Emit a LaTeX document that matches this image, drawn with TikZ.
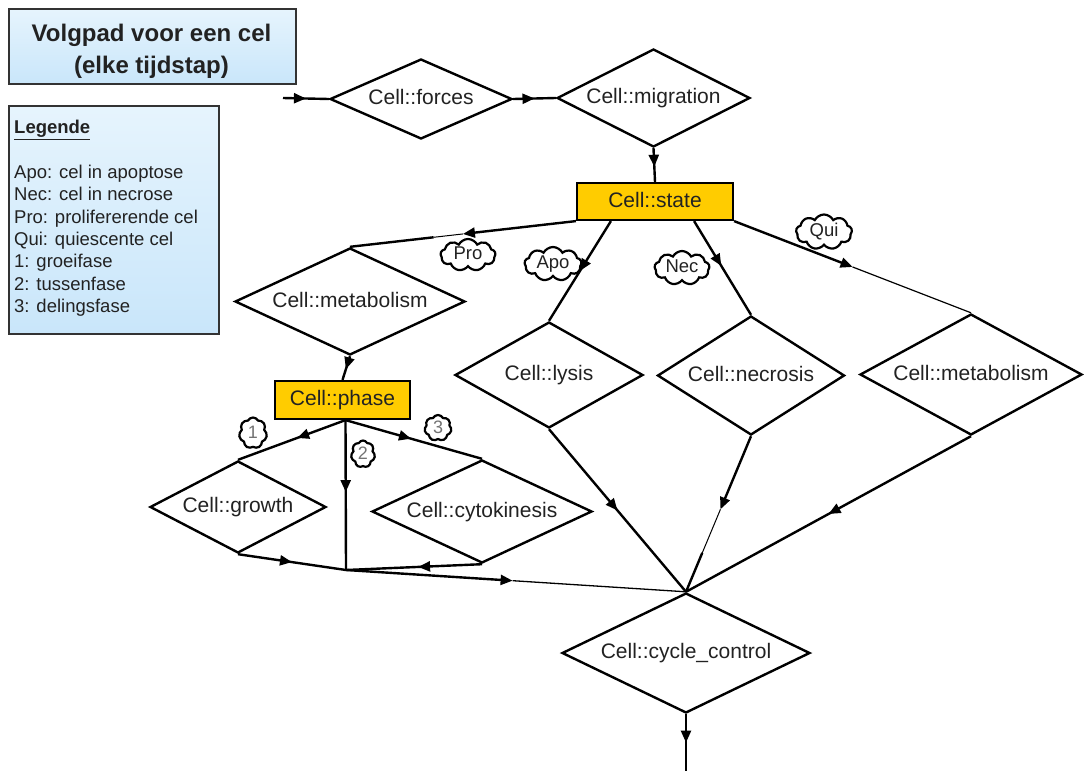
\documentclass[tikz,border=0pt]{standalone}
\usepackage{fontspec}
\setmainfont{Liberation Sans}
\usetikzlibrary{shapes.geometric,shapes.symbols,arrows.meta,decorations.markings,calc}
\definecolor{gold}{HTML}{FFCC00}
\definecolor{lbtop}{HTML}{E6F4FD}
\definecolor{lbbot}{HTML}{C9E6FA}
\definecolor{txt}{HTML}{222222}
\begin{document}
\begin{tikzpicture}[x=1pt,y=-1pt,
  every node/.style={text=txt},
  dia/.style={diamond, draw=black, line width=2.4pt, fill=white, inner sep=0pt,
    font=\fontsize{21}{25}\selectfont, text height=15pt, text depth=4pt},
  ybox/.style={rectangle, draw=black, line width=2.2pt, fill=gold, inner sep=0pt,
    font=\fontsize{21}{25}\selectfont, text height=15pt, text depth=4pt},
  conn/.style={draw=black, line width=2.4pt},
  thinconn/.style={draw=black, line width=1pt},
  marr/.style={postaction={decorate}, decoration={markings,
    mark=at position #1 with {\arrow{Triangle[length=12pt,width=10pt]}}}},
  endarr/.style={-{Triangle[length=12pt,width=10pt]}},
  tag/.style={cloud, cloud puffs=9, cloud puff arc=125, aspect=1.8, draw=black,
    line width=2.2pt, fill=white, inner sep=0pt, text height=10pt, text depth=1pt,
    font=\fontsize{18.5}{22}\selectfont},
  numtag/.style={cloud, cloud puffs=7, cloud puff arc=125, aspect=0.95, draw=black,
    line width=2.2pt, fill=white, inner sep=0pt, text height=10pt, text depth=0pt,
    font=\fontsize{18}{20}\selectfont, text=black!55},
  infobox/.style={rectangle, draw=black!80, line width=1.8pt, top color=lbtop, bottom color=lbbot},
  legtxt/.style={anchor=base west, inner sep=0pt, font=\fontsize{18.5}{22}\selectfont},
]
\useasboundingbox (0,0) rectangle (1084,771);

% info boxes
\node[infobox, anchor=north west, minimum width=287, minimum height=75] (titlebox) at (8,8) {};
\node[align=center, inner sep=0pt, font=\bfseries\fontsize{24}{32}\selectfont] (titletext) at (151.5,51) {Volgpad voor een cel\\(elke tijdstap)};
\node[infobox, anchor=north west, minimum width=210, minimum height=228] (legend) at (8,105) {};
\node[legtxt, font=\bfseries\fontsize{18.5}{22}\selectfont] (lg0) at (14,133.5) {\underline{Legende}};
\node[legtxt] (lg1) at (14,178.5) {Apo: cel in apoptose};
\node[legtxt] (lg2) at (14,200.8) {Nec: cel in necrose};
\node[legtxt] (lg3) at (14,223.1) {Pro: prolifererende cel};
\node[legtxt] (lg4) at (14,245.4) {Qui: quiescente cel};
\node[legtxt] (lg5) at (14,267.7) {1: groeifase};
\node[legtxt] (lg6) at (14,290.0) {2: tussenfase};
\node[legtxt] (lg7) at (14,312.3) {3: delingsfase};

% main nodes
\node[dia, aspect=2.27, minimum width=182, minimum height=80] (forces) at (421,99) {Cell::forces};
\node[dia, aspect=1.96, minimum width=193, minimum height=98] (migr) at (653.5,98) {Cell::migration};
\node[ybox, minimum width=156, minimum height=37] (state) at (655,201.5) {Cell::state};
\node[dia, aspect=2.21, minimum width=230, minimum height=107] (metab1) at (350,301.5) {Cell::metabolism};
\node[dia, aspect=1.77, minimum width=188, minimum height=106] (lysis) at (549,375) {Cell::lysis};
\node[dia, aspect=1.57, minimum width=187, minimum height=119] (necro) at (751,375.5) {Cell::necrosis};
\node[dia, aspect=1.83, minimum width=222, minimum height=121] (metab2) at (971,374.5) {Cell::metabolism};
\node[ybox, minimum width=135, minimum height=38] (phase) at (342.5,400) {Cell::phase};
\node[dia, aspect=1.91, minimum width=176, minimum height=92] (growth) at (238,507) {Cell::growth};
\node[dia, aspect=2.14, minimum width=220, minimum height=103] (cyto) at (482,511.5) {Cell::cytokinesis};
\node[dia, aspect=2.07, minimum width=248, minimum height=120] (cycle) at (686,653) {Cell::cycle\_control};

% tags
\node[tag, minimum width=55, minimum height=32] (tpro) at (468,255) {Pro};
\node[tag, minimum width=57, minimum height=32] (tapo) at (553,264) {Apo};
\node[tag, minimum width=55, minimum height=31] (tnec) at (682,268) {Nec};
\node[tag, minimum width=56, minimum height=35] (tqui) at (824,232) {Qui};
\node[numtag, minimum width=28, minimum height=31] (t1) at (253,433) {1};
\node[numtag, minimum width=24, minimum height=27] (t2) at (363,454) {2};
\node[numtag, minimum width=27, minimum height=26] (t3) at (438,428) {3};

% free ends and junctions
\coordinate (start) at (283,98);
\coordinate (stop) at (686,771);
\coordinate (j1) at (346,570);
\coordinate (phs) at ($(phase.south)+(3,0)$);
\coordinate (apoS) at ($(state.south west)+(35,0)$);
\coordinate (necS) at ($(state.south east)+(-40,0)$);

% connectors
\draw[conn, marr=0.5] (start) -- (forces.west);
\draw[conn, marr=0.5] (forces.east) -- (migr.west);
\draw[conn, marr=0.55] (migr.south) -- (state.north);

\coordinate (protip) at ($(state.south west)!0.5!(metab1.north)$);
\coordinate (promid) at ($(state.south west)!0.63!(metab1.north)$);
\draw[conn, endarr] (state.south west) -- (protip);
\draw[thinconn] (protip) -- (promid);
\draw[conn] (promid) -- (metab1.north);

\draw[conn, marr=0.5] (apoS) -- (lysis.north);
\draw[conn, marr=0.48] (necS) -- (necro.north);

\coordinate (quitip) at ($(state.south east)!0.5!(metab2.north)$);
\draw[conn, endarr] (state.south east) -- (quitip);
\draw[draw=black, line width=1.2pt] (quitip) -- (metab2.north);

\draw[conn, marr=0.55] (metab1.south) -- (phase.north);
\draw[conn, marr=0.45] (phs) -- (growth.north);
\draw[conn, marr=0.48] (phs) -- (j1);
\draw[conn, marr=0.48] (phs) -- (cyto.north);
\draw[conn, marr=0.5] (growth.south) -- (j1);
\draw[conn, marr=0.47] (cyto.south) -- (j1);

\coordinate (jtip) at ($(j1)!0.49!(cycle.north)$);
\draw[conn, endarr] (j1) -- (jtip);
\draw[draw=black, line width=1.3pt] (jtip) -- (cycle.north);

\draw[conn, marr=0.5] (lysis.south) -- (cycle.north);

\coordinate (nectip) at ($(necro.south)!0.47!(cycle.north)$);
\coordinate (necmid) at ($(necro.south)!0.75!(cycle.north)$);
\draw[conn, endarr] (necro.south) -- (nectip);
\draw[thinconn] (nectip) -- (necmid);
\draw[conn] (necmid) -- (cycle.north);

\draw[conn, marr=0.5] (metab2.south) -- (cycle.north);
\draw[conn, marr=0.5] (cycle.south) -- (stop);
\end{tikzpicture}
\end{document}
